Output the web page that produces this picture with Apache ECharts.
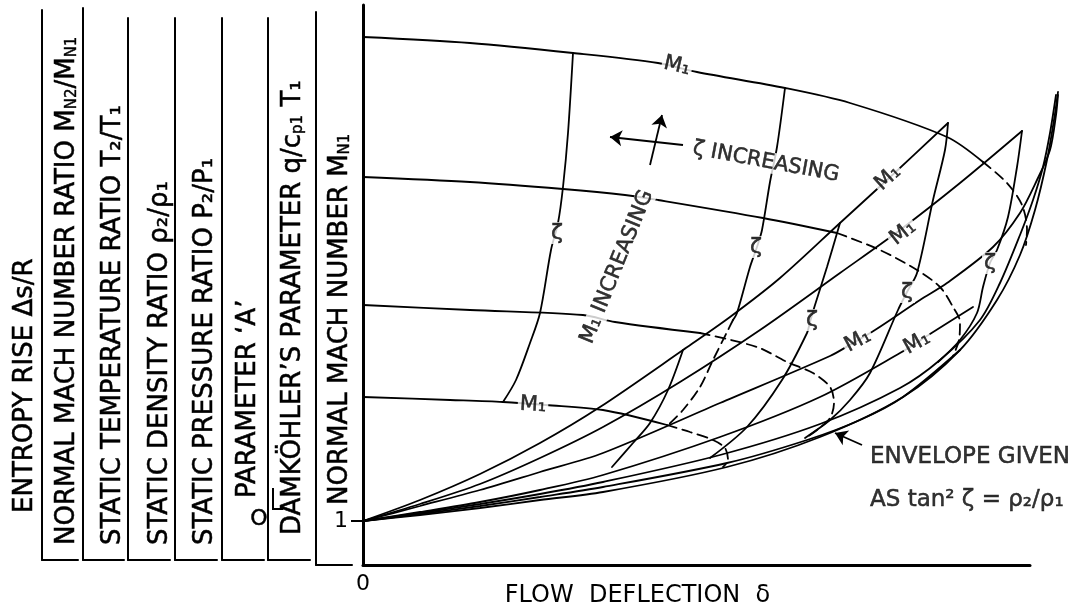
<!DOCTYPE html>
<html><head><meta charset="utf-8">
<script src="https://cdn.jsdelivr.net/npm/echarts@6.0.0/dist/echarts.min.js"></script>
<style>html,body{margin:0;padding:0;background:#fff}#c{width:1075px;height:614px}</style>
</head><body><div id="c"></div>
<script>
// ---------- DATA (x = flow deflection, y = normal Mach number M_N1) ----------
// constant-M1 curves starting on the M_N1 axis: solid part and dashed continuation
const a1Solid = [[0,13.1],[10.7,12.95],[21.0,12.7],[29.5,12.45],[33.4,12.225],[42.2,11.825],[48.7,11.45],[58.4,10.6],[62.0,9.975]];
const a1Dashed = [[62.0,9.975],[64.4,9.45],[65.9,8.9],[66.4,8.275],[66.3,7.9]];
const a2Solid = [[0,9.6],[10.7,9.475],[20.0,9.3],[26.2,9.15],[29.5,9.025],[40.0,8.575],[47.4,8.2]];
const a2Dashed = [[47.4,8.2],[51.7,7.775],[55.4,7.275],[57.7,6.85],[59.0,6.35],[59.7,5.975],[59.6,5.525],[59.0,5.125]];
const a3Solid = [[0,6.4],[10.7,6.275],[22.0,6.15],[25.2,5.975],[33.7,5.7]];
const a3Dashed = [[33.7,5.7],[39.4,5.35],[42.4,4.975],[45.0,4.7],[46.7,4.35],[47.1,3.95],[46.7,3.575],[45.4,3.275],[44.4,3.1]];
const a4Solid = [[0,4.1],[8.7,4.025],[14.0,3.975],[18.3,3.9],[24.0,3.775],[30.4,3.4]];
const a4Dashed = [[30.4,3.4],[32.7,3.225],[35.0,3.025],[36.2,2.825],[36.5,2.525],[36.0,2.35]];
// constant-M1 curves fanning out of (0, 1)
const fan1 = [[0,1],[5.7,1.525],[11.7,2.175],[17.7,2.95],[23.7,3.85],[32.0,5.275],[36.7,6.1],[41.7,7.075],[47.7,8.45],[52.4,9.525],[58.5,10.95]];
const fan2 = [[0,1],[5.7,1.425],[11.7,1.925],[17.7,2.575],[24.0,3.35],[31.7,4.475],[39.7,5.775],[47.7,7.2],[53.7,8.275],[59.7,9.45],[65.9,10.75]];
const fan3 = [[0,1],[5.7,1.375],[11.7,1.775],[17.7,2.225],[24.0,2.7],[35.7,3.95],[46.7,5.125],[49.0,5.45],[51.2,5.775],[55.7,6.525],[58.4,6.95],[63.0,7.85],[65.7,8.7],[67.4,9.525],[68.7,10.275],[69.3,11.15],[69.5,11.65]];
const fan4 = [[0,1],[5.7,1.225],[11.7,1.475],[17.7,1.775],[24.0,2.15],[35.7,3.1],[45.7,4.1],[53.7,5.2],[56.7,5.675],[61.0,6.35]];
const fan5 = [[0,1],[5.7,1.2],[11.7,1.425],[17.7,1.675],[24.0,1.975],[35.7,2.65],[45.7,3.425],[53.7,4.325],[57.7,5.025],[61.7,6.025],[63.7,6.95],[65.7,8.15],[67.0,9.025],[68.0,9.85],[68.7,10.7],[69.3,11.65]];
const fan6 = [[0,1],[5.7,1.175],[11.7,1.375],[17.7,1.6],[24.0,1.85],[36.4,2.45],[44.4,3.025],[49.7,3.525],[54.0,4.1],[59.7,5.275]];
const envelope = [[0,1],[5.7,1.15],[11.7,1.325],[17.7,1.525],[24.0,1.725],[36.4,2.35],[45.7,3.1],[54.0,4.1],[59.7,5.275],[63.4,6.525],[65.7,7.65],[67.2,8.775],[68.4,10.025],[69.1,11.025],[69.5,11.725]];
// constant-zeta curves
const zeta1 = [[21.0,12.7],[20.5,10.7],[20.0,9.35],[19.5,8.45],[18.8,7.775],[17.7,6.2],[16.7,5.45],[15.3,4.525],[14.0,3.975]];
const zeta2Solid = [[42.2,11.825],[41.4,10.35],[40.7,9.475],[39.9,8.275],[39.4,7.85],[38.7,7.35],[37.4,6.2],[37.0,6.025]];
const zeta2Dashed = [[37.0,6.025],[36.5,5.775],[35.0,5.025],[33.7,4.35],[32.0,3.775],[30.5,3.4]];
const zeta3 = [[47.7,8.45],[46.4,7.35],[45.2,6.4],[44.7,5.975],[44.4,5.7],[41.9,4.525],[38.4,3.35],[34.7,2.575]];
const zeta4 = [[58.5,10.95],[58.2,10.275],[57.0,9.025],[55.4,7.2],[54.4,6.725],[53.5,6.275],[50.7,4.7],[48.7,4.025],[46.7,3.525],[44.2,3.075]];
const zeta5 = [[65.9,10.75],[65.4,9.85],[64.5,8.6],[63.4,7.775],[62.7,7.45],[62.0,6.85],[61.4,6.2],[59.7,5.525],[57.5,4.975]];
const zetaA = [[32.0,5.275],[30.5,4.275],[28.7,3.45],[27.0,2.95],[24.9,2.35]];
// label anchor points
const m1LabelPoints = [[31.4,12.375],[17.0,3.9],[52.5,9.575],[54.0,8.2],[49.5,5.5],[55.4,5.45]];
const zetaLabelPoints = [[19.4,8.2],[39.3,7.85],[44.9,6.025],[54.4,6.725],[62.7,7.45]];
const arrowZeta = [[32.0,10.4],[24.7,10.6]];
const arrowM1 = [[28.7,9.9],[29.9,11.15]];
const arrowEnvelope = [[49.9,2.9],[47.2,3.2]];
const zetaIncPoint = [40.3,9.975];
const m1IncPoint = [25.4,7.35];
const envNotePoint1 = [50.5,2.6];
const envNotePoint2 = [50.5,1.525];
// text
const xTitle = 'FLOW  DEFLECTION  δ';
const leftTitles = [
  'ENTROPY RISE Δs/R',
  'NORMAL MACH NUMBER RATIO M{s|N2}/M{s|N1}',
  'STATIC TEMPERATURE RATIO T₂/T₁',
  'STATIC DENSITY RATIO ρ₂/ρ₁',
  'STATIC PRESSURE RATIO P₂/P₁',
  'PARAMETER ‘A’',
  'DAMKÖHLER’S PARAMETER q/c{s|p1} T₁',
  'NORMAL MACH NUMBER M{s|N1}'
];

// ---------- LAYOUT / STYLE ----------
const FONT = 'DejaVu Sans';
const INK = '#000';
const m1LabelAngles = [-13, -3, 42, 38, 28, 29];
const titleCx = [25, 67, 113, 160, 205, 248, 293, 340];
const titleBottom = [513, 545, 545, 545, 545, 498, 535, 505];
// [left, top, stubWidth, bottom]
const panelBoxes = [[42,10,36,560],[83,8,41,560],[128,18,42,560],[175,18,42,560],[222,18,42,560],[268,18,42,560],[316,12,36,565]];

const grids = [
  {left:363, top:5, width:667, height:560, outerBoundsMode:'none', containLabel:false},
  {left:363, top:5, width:700, height:560, outerBoundsMode:'none', containLabel:false}
];
const xAxes = [
  {gridIndex:0, type:'value', min:0, max:66.7,
   axisLine:{show:true, onZero:false, lineStyle:{color:INK, width:3}},
   axisTick:{show:false}, splitLine:{show:false},
   axisLabel:{show:true, customValues:[0], formatter:()=> '0', fontSize:22, fontFamily:FONT, color:INK, margin:8},
   name:xTitle, nameLocation:'middle', nameGap:19, nameMoveOverlap:false,
   nameTextStyle:{fontSize:24, fontFamily:FONT, color:INK, padding:[0,118,0,0]}},
  {gridIndex:1, type:'value', min:0, max:70, show:false}
];
const yAxes = [
  {gridIndex:0, type:'value', min:-0.1, max:13.9,
   axisLine:{show:true, onZero:false, lineStyle:{color:INK, width:3}},
   axisTick:{show:true, customValues:[1], length:12, lineStyle:{color:INK, width:2}},
   axisLabel:{show:true, customValues:[1], formatter:()=> '1', fontSize:22, fontFamily:FONT, color:INK, margin:15},
   splitLine:{show:false}},
  {gridIndex:1, type:'value', min:-0.1, max:13.9, show:false}
];
panelBoxes.forEach((b) => {
  const gi = grids.length;
  grids.push({left:b[0], top:b[1], width:b[2], height:b[3]-b[1], outerBoundsMode:'none', containLabel:false});
  const ax = {gridIndex:gi, type:'value', min:0, max:1,
    axisLine:{show:true, onZero:false, lineStyle:{color:INK, width:2}},
    axisTick:{show:false}, axisLabel:{show:false}, splitLine:{show:false}};
  xAxes.push(Object.assign({}, ax));
  yAxes.push(Object.assign({}, ax));
});

function lineSeries(data, dashed) {
  return {type:'line', xAxisIndex:1, yAxisIndex:1, data, showSymbol:false, symbol:'none',
    smooth:0.3, silent:true, z:2, animation:false,
    lineStyle:{color:INK, width:1.8, type: dashed ? [10,6] : 'solid', cap:'round'}};
}
const solid = [a1Solid,a2Solid,a3Solid,a4Solid,fan1,fan2,fan3,fan4,fan5,fan6,envelope,zeta1,zeta2Solid,zeta3,zeta4,zeta5,zetaA];
const dashed = [a1Dashed,a2Dashed,a3Dashed,a4Dashed,zeta2Dashed];
const series = [];
solid.forEach(d => series.push(lineSeries(d,false)));
dashed.forEach(d => series.push(lineSeries(d,true)));

const labelBase = {show:true, position:'inside', fontFamily:FONT, color:INK, backgroundColor:'#fff', padding:[0,2],
  textBorderColor:INK, textBorderWidth:0.5};
series.push({type:'scatter', xAxisIndex:1, yAxisIndex:1, symbolSize:0, z:5, silent:true, animation:false,
  label:Object.assign({}, labelBase, {formatter:'M₁', fontSize:21}),
  data:m1LabelPoints.map((p,i)=>({value:p, label:{rotate:m1LabelAngles[i]}}))});
series.push({type:'scatter', xAxisIndex:1, yAxisIndex:1, symbolSize:0, z:5, silent:true, animation:false,
  label:Object.assign({}, labelBase, {formatter:'ζ', fontSize:22}),
  data:zetaLabelPoints.map(p=>({value:p}))});
series.push({type:'scatter', xAxisIndex:1, yAxisIndex:1, symbolSize:0, z:5, silent:true, animation:false,
  label:Object.assign({}, labelBase, {fontSize:21}),
  data:[
    {value:zetaIncPoint, label:{formatter:'ζ INCREASING', rotate:-10.5}},
    {value:m1IncPoint, label:{formatter:'M₁ INCREASING', rotate:68}},
    {value:envNotePoint1, label:{formatter:'ENVELOPE GIVEN', position:'right', distance:0, fontSize:23}},
    {value:envNotePoint2, label:{formatter:'AS tan² ζ = ρ₂/ρ₁', position:'right', distance:0, fontSize:23}}
  ]});
series.push({type:'lines', coordinateSystem:'cartesian2d', xAxisIndex:1, yAxisIndex:1, z:6, silent:true, animation:false,
  symbol:['none','arrow'], symbolSize:[0,12],
  lineStyle:{color:INK, width:1.8, opacity:1},
  data:[arrowZeta, arrowM1, arrowEnvelope].map(c=>({coords:c}))});

const graphics = leftTitles.map((t,i)=>({
  type:'text', x:titleCx[i], y:titleBottom[i], rotation:Math.PI/2, silent:true,
  style:{text:t, fontSize:26, fontFamily:FONT, fill:INK, stroke:INK, lineWidth:0.5,
    align:'left', verticalAlign:'middle', textAlign:'left', textVerticalAlign:'middle',
    rich:{s:{fontSize:15, fontFamily:FONT, fill:INK, stroke:INK, lineWidth:0.4, verticalAlign:'bottom'}}}
}));
graphics.push({type:'text', x:259, y:519, silent:true,
  style:{text:'O', fontSize:22, fontFamily:FONT, fill:INK, stroke:INK, lineWidth:0.5, align:'center', verticalAlign:'middle', textAlign:'center', textVerticalAlign:'middle'}});
graphics.push({type:'polyline', silent:true, shape:{points:[[273,488],[273,509],[283,509]]}, style:{stroke:INK, lineWidth:2, fill:null}});

const chart = echarts.init(document.getElementById('c'));
chart.setOption({
  animation:false, backgroundColor:'#fff',
  grid:grids, xAxis:xAxes, yAxis:yAxes, series, graphic:graphics
});
</script></body></html>
